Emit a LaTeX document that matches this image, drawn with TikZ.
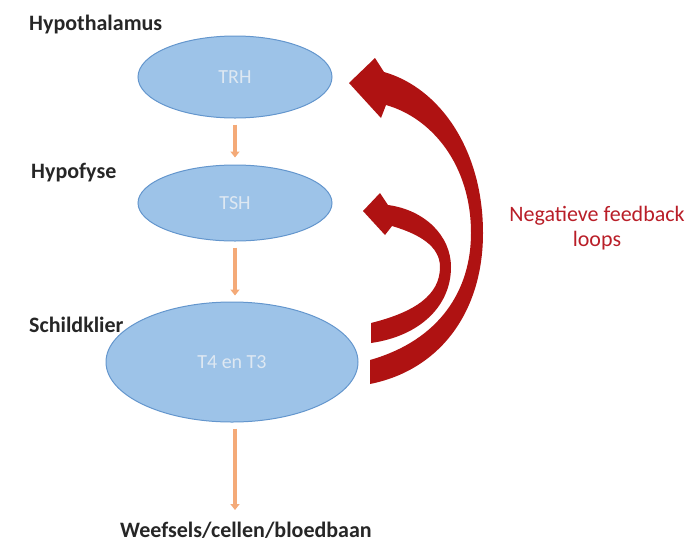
\documentclass[tikz,border=0pt]{standalone}
\usepackage{fontspec}
\setmainfont{Carlito}
\usetikzlibrary{arrows.meta,shapes.geometric}
\definecolor{ellfill}{RGB}{157,195,232}
\definecolor{elldraw}{RGB}{100,150,205}
\definecolor{elltext}{RGB}{222,232,242}
\definecolor{fbred}{RGB}{175,18,18}
\definecolor{fbtext}{RGB}{185,30,40}
\definecolor{arrorange}{RGB}{244,170,120}
\tikzset{
  gland/.style={ellipse, fill=ellfill, draw=elldraw, line width=1pt, text=elltext, font=\fontsize{20}{22}\selectfont, inner sep=0pt},
  lbl/.style={font=\fontsize{22}{24}\selectfont\bfseries, anchor=west, text=black!85, inner sep=0pt},
  flow/.style={draw=arrorange, line width=3.5pt, -{Triangle[length=6pt,width=9pt]}},
  feedback/.style={fill=fbred, draw=none}
}
\begin{document}
\begin{tikzpicture}[x=1pt,y=-1pt]
\useasboundingbox (0,0) rectangle (694,542);
\node[gland, minimum width=194pt, minimum height=82pt] (trh) at (235,77) {TRH};
\node[gland, minimum width=194pt, minimum height=76pt] (tsh) at (235,203) {TSH};
\node[gland, minimum width=252pt, minimum height=120pt] (t4) at (232,362) {T4 en T3};
\node[lbl] (hyp) at (29,25) {Hypothalamus};
\node[lbl] (hypo) at (31,173) {Hypofyse};
\node[lbl] (schild) at (29,325) {Schildklier};
\node[font=\fontsize{22}{24}\selectfont\bfseries, text=black!85, inner sep=0pt] (weef) at (246,530) {Weefsels/cellen/bloedbaan};
\node[text=fbtext, font=\fontsize{22}{25}\selectfont, align=center, inner sep=0pt] (neg) at (597,228) {Negatieve feedback\\loops};
\draw[flow] ([yshift=-6pt]trh.south) -- ([yshift=7pt]tsh.north);
\draw[flow] ([yshift=-6pt]tsh.south) -- ([yshift=6pt]tsh.south |- t4.north);
\coordinate (wtop) at (235,510);
\draw[flow] ([yshift=-6pt]wtop |- t4.south) -- (wtop);
% big feedback arrow
\fill[feedback] (370,360) .. controls (440,340) and (471,290) .. (471,233)
  .. controls (471,165) and (432,118) .. (386,105)
  -- (381,118) -- (349,83) -- (375,58) -- (384,72)
  .. controls (440,88) and (483,150) .. (483,233)
  .. controls (483,312) and (440,370) .. (370,384) -- cycle;
% small feedback arrow
\fill[feedback] (371,323) .. controls (415,312) and (440,295) .. (440,267)
  .. controls (440,246) and (419,234) .. (392,226)
  -- (385,235) -- (363,211) -- (380,193) -- (388,205)
  .. controls (425,210) and (451,236) .. (451,267)
  .. controls (451,306) and (420,336) .. (371,343) -- cycle;
\end{tikzpicture}
\end{document}
